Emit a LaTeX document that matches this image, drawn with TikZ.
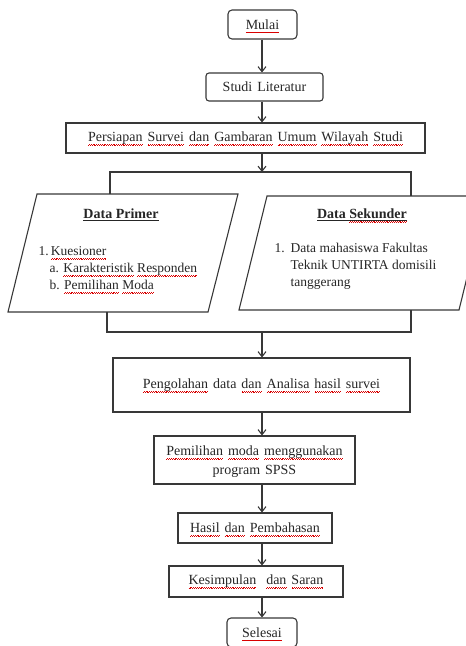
\documentclass[tikz,border=0pt]{standalone}
\usepackage{fontspec}
\setmainfont{Liberation Serif}
\usetikzlibrary{arrows.meta}
\definecolor{boxgray}{rgb}{0.22,0.22,0.22}
% red wavy spell-check line
\newcommand\sq[1]{\setbox0=\hbox{#1}\leavevmode
  \rlap{\smash{\hbox to \wd0{\color{red!85!black}\xleaders\hbox{%
  \rule[-3.8pt]{0.9pt}{0.6pt}\rule[-3.2pt]{0.9pt}{0.6pt}}\hfil}}}\box0\relax}
\newcommand\boxfont{\fontsize{14}{17}\selectfont\spaceskip=5pt plus 1pt\relax}

\begin{document}
\begin{tikzpicture}[x=1pt,y=-1pt,
  font=\fontsize{14}{17}\selectfont,
  box/.style={draw=boxgray,line width=1.1pt,text=black!85,inner sep=2pt,align=center,
    font=\boxfont},
  rbox/.style={box,rounded corners=4pt},
  line/.style={draw=boxgray,line width=1.1pt},
  arr/.style={line,-{Straight Barb[length=5pt,width=8pt]}}]
\useasboundingbox (0,0) rectangle (466,646);
\clip (0,0) rectangle (466,646);
\coordinate (col) at (262,0);
%
% top
%
\node[rbox,minimum width=69,minimum height=29] (mulai) at (262.5,24.5) {\sq{Mulai}};
\node[rbox,rounded corners=3pt,minimum width=117,minimum height=28] (studi) at (264.5,87) {Studi Literatur};
\node[box,minimum width=359,minimum height=30] (persiapan) at (245.5,138)
  {\sq{Persiapan} \sq{Survei} \sq{dan} \sq{Gambaran} \sq{Umum} \sq{Wilayah} \sq{Studi}};
\draw[arr] (col |- mulai.south) -- (col |- studi.north);
\draw[arr] (col |- studi.south) -- (col |- persiapan.north);
%
% data
%
\coordinate (split) at (262,172);
\coordinate (primtop) at (110,194);
\coordinate (sekuntop) at (411,196);
\draw[arr] (col |- persiapan.south) -- (split);
\draw[line] (primtop) -- (primtop |- split) -- (sekuntop |- split) -- (sekuntop);
%
\draw[line] (37,194) -- (238,194) -- (208,312) -- (8,312) -- cycle;
\node[text=black!85] (primhead) at (121,215) {\underline{\textbf{Data Primer}}};
\node[text=black!85,anchor=west,align=left,font=\fontsize{13.5}{17}\selectfont] (primlist) at (35,268)
  {1.\,\sq{Kuesioner}\\
   \hspace*{11pt}a. \sq{Karakteristik} \sq{Responden}\\
   \hspace*{11pt}b. \sq{Pemilihan} \sq{Moda}};
%
\draw[line] (267,196) -- (487,196) -- (459,310) -- (239,310) -- cycle;
\node[text=black!85] (sekunhead) at (362,215) {\underline{\textbf{Data \sq{Sekunder}}}};
\node[text=black!85,anchor=north west,font=\fontsize{13.5}{17}\selectfont] (sekunlist) at (271,237)
  {\begin{tabular}{@{}l@{\hspace{6pt}}l@{}}
   1. & Data mahasiswa Fakultas\\
      & Teknik UNTIRTA domisili\\
      & tanggerang
   \end{tabular}};
%
\coordinate (primbot) at (107,312);
\coordinate (sekunbot) at (411,310);
\coordinate (merge) at (262,332);
\draw[line] (primbot) -- (primbot |- merge) -- (sekunbot |- merge) -- (sekunbot);
%
% bottom
%
\node[box,minimum width=297,minimum height=54] (olah) at (261.5,385)
  {\sq{Pengolahan} data \sq{dan} \sq{Analisa} \sq{hasil} \sq{survei}};
\node[box,minimum width=201,minimum height=48,text depth=0pt] (pemilihan) at (254.5,460)
  {\sq{Pemilihan} \sq{moda} \sq{menggunakan}\\[2pt] program SPSS};
\node[box,minimum width=154,minimum height=30] (hasil) at (255,528)
  {\sq{Hasil} \sq{dan} \sq{Pembahasan}};
\node[box,minimum width=174,minimum height=31] (simpul) at (256,581.5)
  {\sq{Kesimpulan}\ \ \sq{dan} \sq{Saran}};
\node[rbox,minimum width=70,minimum height=29] (selesai) at (262,632.5) {\sq{Selesai}};
%
\draw[arr] (merge) -- (col |- olah.north);
\draw[arr] (col |- olah.south) -- (col |- pemilihan.north);
\draw[arr] (col |- pemilihan.south) -- (col |- hasil.north);
\draw[arr] (col |- hasil.south) -- (col |- simpul.north);
\draw[arr] (col |- simpul.south) -- (col |- selesai.north);
\end{tikzpicture}
\end{document}
